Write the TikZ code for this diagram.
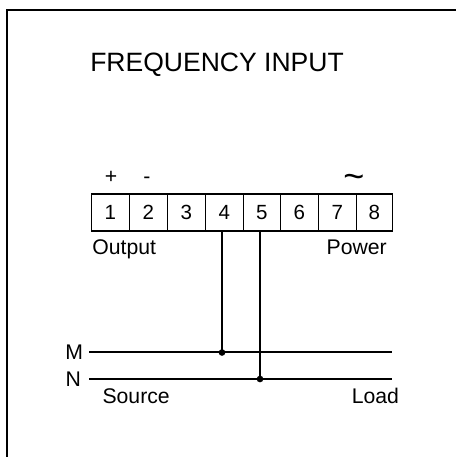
\documentclass[tikz,border=0pt]{standalone}
\usepackage{fontspec}
\setmainfont{Liberation Sans}
\newcommand{\dg}[1]{\raisebox{-1pt}{#1}}
\tikzset{
  wire/.style={line width=1.6pt,line cap=butt},
  lbl/.style={inner sep=0pt,text=black,font=\fontsize{15.9pt}{18pt}\selectfont},
  term/.style={draw=black,line width=1.3pt,inner sep=0pt,minimum height=27.75pt,anchor=north west,text=black,font=\fontsize{15.4pt}{18pt}\selectfont},
  dotnode/.style={circle,fill=black,inner sep=0pt,minimum size=5pt}
}
\begin{document}
\begin{tikzpicture}[x=0.75pt,y=-0.75pt]
\useasboundingbox (0,0) rectangle (456,457);
\fill[white] (0,0) rectangle (456,457);
\draw[line width=2.1pt] (7,457) -- (7,10) -- (456,10);
\node[lbl,font=\fontsize{19.9pt}{22pt}\selectfont,anchor=base west] (title) at (90,71.5) {FREQUENCY INPUT};
% terminals
\node[term,minimum width=28.5pt] (t1) at (90.5,193) {\dg{1}};
\node[term,minimum width=28.5pt] (t2) at (128.5,193) {\dg{2}};
\node[term,minimum width=28.5pt] (t3) at (166.5,193) {\dg{3}};
\node[term,minimum width=28.5pt] (t4) at (204.5,193) {\dg{4}};
\node[term,minimum width=27.75pt] (t5) at (242.5,193) {\dg{5}};
\node[term,minimum width=28.5pt] (t6) at (279.5,193) {\dg{6}};
\node[term,minimum width=28.5pt] (t7) at (317.5,193) {\dg{7}};
\node[term,minimum width=27pt] (t8) at (355.5,193) {\dg{8}};
\node[lbl,anchor=base] (plus) at (111,183) {+};
\node[lbl,anchor=base] (minus) at (147,183) {-};
\node[lbl,font=\fontsize{27pt}{29pt}\selectfont,anchor=center] (tilde) at (354,181) {\textasciitilde};
\node[lbl,anchor=base west] (output) at (92.2,254) {Output};
\node[lbl,anchor=base east] (power) at (387,254) {Power};
\node[lbl,anchor=base east] (m) at (83.3,359.5) {M};
\node[lbl,anchor=base east] (n) at (81.3,386) {N};
\node[lbl,anchor=base west] (source) at (102.3,403) {Source};
\node[lbl,anchor=base east] (load) at (399.3,403) {Load};
% bus lines
\coordinate (ms) at (89,352);
\coordinate (me) at (392,352);
\coordinate (ns) at (89,379);
\coordinate (ne) at (392,379);
\node[dotnode] (d4) at (222,352.5) {};
\node[dotnode] (d5) at (260,379) {};
\draw[wire] (ms) -- (me);
\draw[wire] (ns) -- (ne);
\draw[wire] (t4.south -| d4) -- (d4.center);
\draw[wire] (t5.south -| d5) -- (d5.center);
\end{tikzpicture}
\end{document}
